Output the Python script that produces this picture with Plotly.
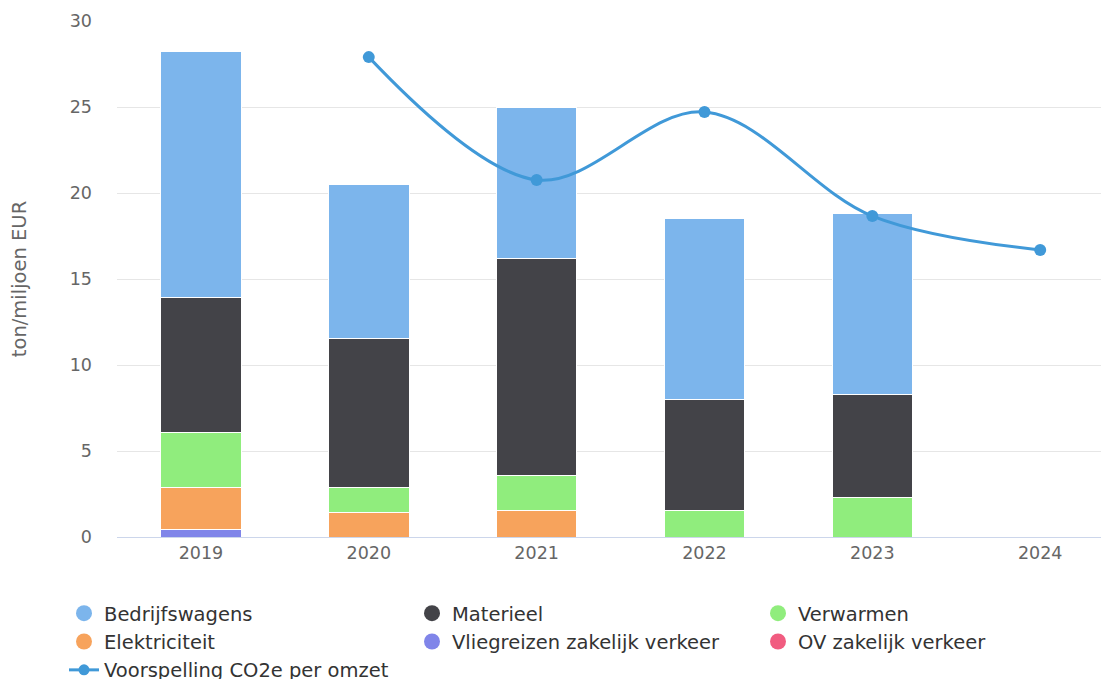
import plotly.graph_objects as go

years = ["2019", "2020", "2021", "2022", "2023", "2024"]
bedrijfswagens = [14.3, 8.9, 8.78, 10.52, 10.52, None]
materieel = [7.8, 8.72, 12.67, 6.4, 5.99, None]
verwarmen = [3.2, 1.45, 1.98, 1.57, 2.27, None]
elektriciteit = [2.45, 1.4, 1.57, 0, 0, None]
vliegreizen = [0.45, 0, 0, 0, 0, None]
ov = [0, 0, 0, 0, 0, None]
voorspelling = [None, 27.9, 20.76, 24.71, 18.66, 16.69]

colors = {
    "Bedrijfswagens": "#7cb5ec",
    "Materieel": "#434348",
    "Verwarmen": "#90ed7d",
    "Elektriciteit": "#f7a35c",
    "Vliegreizen zakelijk verkeer": "#8085e9",
    "OV zakelijk verkeer": "#f15c80",
}
line_color = "#4099d8"

# the page body has an 8px default margin, so the figure is sized 8px smaller
W, H = 1101, 671

fig = go.Figure()
# stacking order bottom -> top
stack = [
    ("OV zakelijk verkeer", ov),
    ("Vliegreizen zakelijk verkeer", vliegreizen),
    ("Elektriciteit", elektriciteit),
    ("Verwarmen", verwarmen),
    ("Materieel", materieel),
    ("Bedrijfswagens", bedrijfswagens),
]
for name, vals in stack:
    fig.add_trace(go.Bar(
        x=years, y=vals, name=name, showlegend=False,
        marker=dict(color=colors[name], line=dict(color="white", width=1)),
        width=0.48,
    ))

fig.add_trace(go.Scatter(
    x=years, y=voorspelling, name="Voorspelling CO2e per omzet",
    mode="lines+markers", line=dict(color=line_color, width=3, shape="spline", smoothing=1.0),
    marker=dict(size=12, color=line_color), showlegend=False,
))

# legend columns (three separate legends laid out as columns)
legend_columns = [
    ("legend", ["Bedrijfswagens", "Elektriciteit"]),
    ("legend2", ["Materieel", "Vliegreizen zakelijk verkeer"]),
    ("legend3", ["Verwarmen", "OV zakelijk verkeer"]),
]
rank = 1
for lg, names in legend_columns:
    for name in names:
        fig.add_trace(go.Scatter(
            x=[None], y=[None], name=name, mode="markers",
            marker=dict(size=19, color=colors[name], symbol="circle"),
            legend=lg, legendrank=rank, showlegend=True,
        ))
        rank += 1
fig.add_trace(go.Scatter(
    x=[None], y=[None], name="Voorspelling CO2e per omzet", mode="lines+markers",
    line=dict(color=line_color, width=3), marker=dict(size=11, color=line_color),
    legend="legend", legendrank=rank, showlegend=True,
))

legend_common = dict(
    orientation="h", xref="container", yref="container",
    y=0.1267, xanchor="left", yanchor="top", traceorder="normal",
    entrywidth=600, entrywidthmode="pixels",
    font=dict(size=19.5, color="#333333"), itemsizing="trace",
    bgcolor="rgba(0,0,0,0)", tracegroupgap=0,
)

fig.update_layout(
    width=W, height=H,
    barmode="stack", bargap=0.52,
    plot_bgcolor="white", paper_bgcolor="white",
    margin=dict(l=109, r=0, t=13, b=142),
    font=dict(family="DejaVu Sans", color="#666666", size=17.5),
    showlegend=True,
    legend=dict(x=56 / W, **legend_common),
    legend2=dict(x=404 / W, **legend_common),
    legend3=dict(x=750 / W, **legend_common),
    xaxis=dict(
        type="category", range=[-0.5, 5.41], showgrid=False, automargin=False,
        showline=True, linecolor="#ccd6eb", linewidth=1,
        ticks="", tickfont=dict(size=17.5, color="#666666"),
    ),
    yaxis=dict(
        range=[0, 30], dtick=5, showgrid=True, gridcolor="#e6e6e6", gridwidth=1,
        zeroline=False, showline=False, ticks="", ticklabelstandoff=24, automargin=False,
        tickfont=dict(size=17.5, color="#666666"),
        title=dict(text="ton/miljoen EUR", font=dict(size=19.5, color="#666666"), standoff=37),
    ),
)

fig.write_html("out.html")
